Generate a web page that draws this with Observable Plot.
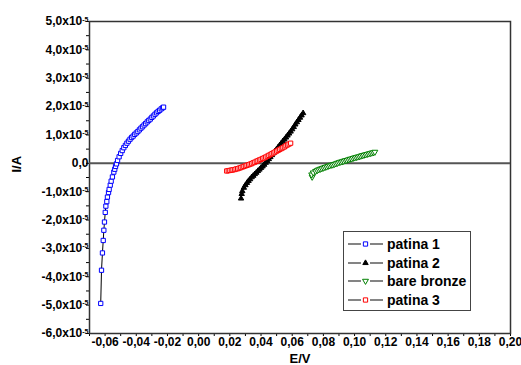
<!DOCTYPE html>
<html>
<head>
<meta charset="utf-8">
<script src="https://cdn.jsdelivr.net/npm/d3@7"></script>
<script src="https://cdn.jsdelivr.net/npm/@observablehq/plot@0.6"></script>
<style>
  html, body { margin: 0; padding: 0; background: #fff; }
  #wrap { position: relative; width: 521px; height: 365px; font-family: "Liberation Sans", Arial, sans-serif; }
  #legend { position: absolute; left: 343px; top: 231px; width: 126px; height: 75px; border: 1.5px solid #444; background: #fff; padding-top: 3px; box-sizing: content-box; }
  .row { display: flex; align-items: center; height: 18.5px; }
  .row svg { margin-left: 4px; margin-right: 3px; }
  .row span { font-weight: bold; font-size: 14px; color: #000; line-height: 1; }
</style>
</head>
<body>
<div id="wrap"></div>
<script>
// ---- data (E in V, I in units of 10^-5 A) ----
const seriesNames = ["patina 1", "patina 2", "bare bronze", "patina 3"];

const E_patina1 = [-0.0628,-0.0623,-0.0617,-0.0612,-0.0608,-0.0604,-0.0599,-0.0595,-0.0589,-0.0585,-0.0578,-0.0574,-0.0567,-0.0561,-0.0553,-0.0544,-0.0538,-0.0533,-0.0527,-0.052,-0.051,-0.050,-0.049,-0.048,-0.047,-0.046,-0.045,-0.044,-0.043,-0.042,-0.041,-0.040,-0.039,-0.038,-0.037,-0.036,-0.035,-0.034,-0.033,-0.032,-0.031,-0.030,-0.029,-0.028,-0.027,-0.026,-0.025,-0.024,-0.023,-0.0225];
const I_patina1 = [-4.94,-3.77,-3.16,-2.72,-2.36,-2.07,-1.73,-1.51,-1.35,-1.19,-1.03,-0.92,-0.77,-0.63,-0.48,-0.31,-0.21,-0.11,-0.02,0.10,0.23,0.35,0.45,0.55,0.63,0.71,0.78,0.85,0.91,0.96,1.02,1.07,1.12,1.18,1.24,1.29,1.35,1.40,1.46,1.51,1.56,1.62,1.67,1.73,1.78,1.83,1.87,1.92,1.96,1.98];

const E_patina2 = [0.0272,0.0276,0.028,0.029,0.030,0.031,0.032,0.033,0.034,0.035,0.036,0.037,0.038,0.039,0.040,0.041,0.042,0.043,0.044,0.045,0.046,0.047,0.048,0.049,0.050,0.051,0.052,0.053,0.054,0.055,0.056,0.057,0.058,0.059,0.060,0.061,0.062,0.063,0.064,0.065,0.066,0.067];
const I_patina2 = [-1.24,-1.08,-0.98,-0.86,-0.77,-0.69,-0.62,-0.56,-0.49,-0.44,-0.38,-0.33,-0.27,-0.22,-0.16,-0.11,-0.05,0.02,0.08,0.15,0.22,0.29,0.36,0.43,0.50,0.57,0.64,0.71,0.78,0.84,0.91,0.98,1.05,1.12,1.20,1.28,1.37,1.45,1.53,1.61,1.69,1.77];

const E_bronze = [0.0728,0.0725,0.0735,0.075,0.076,0.077,0.078,0.079,0.080,0.081,0.082,0.083,0.084,0.085,0.086,0.087,0.088,0.089,0.090,0.091,0.092,0.093,0.094,0.095,0.096,0.097,0.098,0.099,0.100,0.101,0.102,0.103,0.104,0.105,0.106,0.107,0.108,0.109,0.110,0.111,0.112,0.113];
const I_bronze = [-0.48,-0.40,-0.33,-0.28,-0.25,-0.22,-0.20,-0.18,-0.16,-0.14,-0.12,-0.10,-0.08,-0.06,-0.05,-0.03,-0.01,0.01,0.03,0.05,0.06,0.08,0.10,0.11,0.13,0.15,0.16,0.18,0.20,0.21,0.23,0.24,0.26,0.28,0.29,0.31,0.32,0.34,0.35,0.37,0.38,0.40];

const E_patina3 = [0.018,0.019,0.020,0.021,0.022,0.023,0.024,0.025,0.026,0.027,0.028,0.029,0.030,0.031,0.032,0.033,0.034,0.035,0.036,0.037,0.038,0.039,0.040,0.041,0.042,0.043,0.044,0.045,0.046,0.047,0.048,0.049,0.050,0.051,0.052,0.053,0.054,0.055,0.056,0.057,0.058,0.059];
const I_patina3 = [-0.27,-0.26,-0.25,-0.24,-0.23,-0.22,-0.20,-0.19,-0.17,-0.15,-0.13,-0.11,-0.09,-0.07,-0.05,-0.03,-0.01,0.02,0.04,0.07,0.09,0.12,0.14,0.17,0.19,0.22,0.25,0.28,0.31,0.34,0.37,0.40,0.43,0.46,0.49,0.52,0.55,0.58,0.62,0.65,0.68,0.71];

const xTicks = [-0.06,-0.04,-0.02,0.00,0.02,0.04,0.06,0.08,0.10,0.12,0.14,0.16,0.18,0.20];
const xMinorTicks = [-0.07,-0.05,-0.03,-0.01,0.01,0.03,0.05,0.07,0.09,0.11,0.13,0.15,0.17,0.19];
const yTicks = [-6,-5,-4,-3,-2,-1,0,1,2,3,4,5];
const yMinorTicks = [-5.5,-4.5,-3.5,-2.5,-1.5,-0.5,0.5,1.5,2.5,3.5,4.5];
const yExponent = "-5";
const xLabel = "E/V";
const yLabel = "I/A";

// ---- styles ----
const styles = [
  {stroke: "#0000ff", fill: "#fff", symbol: "square", r: 2.4, rotate: 0},
  {stroke: "#000", fill: "#000", symbol: "triangle", r: 2.0, rotate: 0},
  {stroke: "#008000", fill: "#fff", symbol: "triangle", r: 2.2, rotate: 180},
  {stroke: "#ff0000", fill: "#fff", symbol: "square", r: 2.4, rotate: 0}
];

const toRows = (E, I) => E.map((e, i) => ({E: e, I: I[i]}));
const allSeries = [
  toRows(E_patina1, I_patina1),
  toRows(E_patina2, I_patina2),
  toRows(E_bronze, I_bronze),
  toRows(E_patina3, I_patina3)
];

const seriesMarks = allSeries.flatMap((rows, k) => [
  Plot.line(rows, {x: "E", y: "I", stroke: "#000", strokeWidth: 1}),
  Plot.dot(rows, {x: "E", y: "I", symbol: styles[k].symbol, r: styles[k].r, stroke: styles[k].stroke, fill: styles[k].fill, strokeWidth: 1, rotate: styles[k].rotate})
]);

const fmtX = d => d.toFixed(2).replace(".", ",");
const fmtY = d => d === 0 ? "0,0" : d.toFixed(1).replace(".", ",") + "x10";

const chart = Plot.plot({
  width: 521,
  height: 365,
  marginLeft: 89,
  marginRight: 11,
  marginTop: 21,
  marginBottom: 32,
  style: {fontFamily: "'Liberation Sans', Arial, sans-serif", fontSize: "12px", fontWeight: "bold", color: "#000", background: "#fff"},
  x: {domain: [-0.07, 0.20]},
  y: {domain: [-6, 5]},
  marks: [
    Plot.axisX({ticks: xMinorTicks, tickSize: 3, tickFormat: () => "", label: null}),
    Plot.axisX({ticks: xTicks, tickSize: 3, tickPadding: 1, tickFormat: fmtX, label: null}),
    Plot.axisY({ticks: yMinorTicks, tickSize: 3, tickFormat: () => "", label: null}),
    Plot.axisY({ticks: yTicks, tickSize: 3, tickPadding: -2, tickFormat: fmtY, label: null}),
    Plot.frame({stroke: "#333", strokeWidth: 1.5}),
    Plot.ruleY([0], {stroke: "#555", strokeWidth: 2}),
    ...seriesMarks,
    Plot.text([xLabel], {text: d => d, frameAnchor: "bottom", lineAnchor: "middle", dy: 25, fontSize: 13, fontWeight: "bold"}),
    Plot.text([yLabel], {text: d => d, frameAnchor: "left", lineAnchor: "middle", dx: -73, dy: -5, rotate: -90, fontSize: 13, fontWeight: "bold"})
  ]
});

// superscript exponents on y tick labels
d3.select(chart).selectAll('g[aria-label="y-axis tick label"] text').each(function() {
  if (this.textContent.endsWith("x10")) {
    d3.select(this).append("tspan").attr("dy", "-0.55em").attr("font-size", "7px").text(yExponent);
  }
});

const wrap = document.getElementById("wrap");
wrap.appendChild(chart);

// legend
const legend = document.createElement("div");
legend.id = "legend";
seriesNames.forEach((name, k) => {
  const s = styles[k];
  const row = document.createElement("div");
  row.className = "row";
  const svg = d3.create("svg").attr("width", 36).attr("height", 10);
  svg.append("line").attr("x1", 0).attr("x2", 13).attr("y1", 5).attr("y2", 5).attr("stroke", "#333").attr("stroke-width", 1.2);
  svg.append("line").attr("x1", 22).attr("x2", 35).attr("y1", 5).attr("y2", 5).attr("stroke", "#333").attr("stroke-width", 1.2);
  const sym = s.symbol === "square" ? d3.symbolSquare : d3.symbolTriangle;
  svg.append("path").attr("d", d3.symbol(sym, s.r * s.r * Math.PI)())
    .attr("transform", `translate(17.5,5) rotate(${s.rotate})`)
    .attr("stroke", s.stroke).attr("fill", s.fill).attr("stroke-width", 1);
  row.appendChild(svg.node());
  const span = document.createElement("span");
  span.textContent = name;
  row.appendChild(span);
  legend.appendChild(row);
});
wrap.appendChild(legend);
</script>
</body>
</html>
